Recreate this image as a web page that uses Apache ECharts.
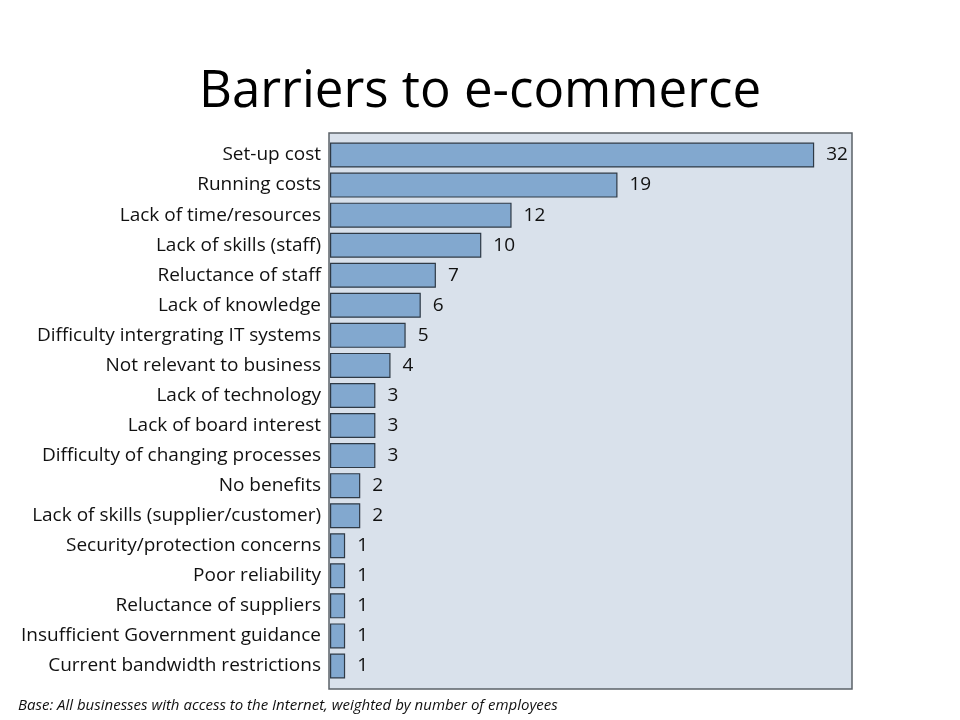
<!DOCTYPE html>
<html>
<head>
<meta charset="utf-8">
<script src="https://cdn.jsdelivr.net/npm/echarts@6/dist/echarts.min.js"></script>
<style>
  html, body { margin: 0; padding: 0; background: #fff; }
  #container { width: 960px; height: 720px; }
</style>
</head>
<body>
<div id="container"></div>
<script>
let categories = [
    'Set-up cost',
    'Running costs',
    'Lack of time/resources',
    'Lack of skills (staff)',
    'Reluctance of staff',
    'Lack of knowledge',
    'Difficulty intergrating IT systems',
    'Not relevant to business',
    'Lack of technology',
    'Lack of board interest',
    'Difficulty of changing processes',
    'No benefits',
    'Lack of skills (supplier/customer)',
    'Security/protection concerns',
    'Poor reliability',
    'Reluctance of suppliers',
    'Insufficient Government guidance',
    'Current bandwidth restrictions'
];
let values = [32, 19, 12, 10, 7, 6, 5, 4, 3, 3, 3, 2, 2, 1, 1, 1, 1, 1];

let titleText = 'Barriers to e-commerce';
let footText = 'Base: All businesses with access to the Internet, weighted by number of employees';

let dom = document.getElementById('container');
let chart = echarts.init(dom);

let font = '"Open Sans", "DejaVu Sans", sans-serif';

chart.setOption({
    animation: false,
    backgroundColor: '#ffffff',
    title: [{
        text: titleText,
        left: 'center',
        top: 62,
        textStyle: {
            fontFamily: font,
            fontSize: 51,
            fontWeight: 'normal',
            color: '#000'
        }
    }, {
        text: footText,
        left: 13,
        top: 693,
        textStyle: {
            fontFamily: font,
            fontSize: 15,
            fontStyle: 'italic',
            fontWeight: 'normal',
            color: '#111'
        }
    }],
    graphic: [{
        type: 'rect',
        z: 0,
        shape: { x: 329, y: 133, width: 523, height: 556 },
        style: { fill: '#d9e1eb', stroke: '#5b6168', lineWidth: 1.5 }
    }],
    grid: {
        left: 330,
        right: 108,
        top: 140,
        height: 541
    },
    xAxis: {
        type: 'value',
        min: 0,
        max: 34.5,
        show: false
    },
    yAxis: {
        type: 'category',
        data: categories,
        inverse: true,
        axisLine: { show: false },
        axisTick: { show: false },
        axisLabel: {
            margin: 9,
            fontFamily: font,
            fontSize: 19,
            color: '#111'
        }
    },
    series: [{
        type: 'bar',
        data: values,
        barWidth: 25,
        itemStyle: {
            color: '#82a8cf',
            borderColor: '#2f3a46',
            borderWidth: 1.2
        },
        label: {
            show: true,
            position: 'right',
            distance: 12,
            fontFamily: font,
            fontSize: 19,
            color: '#111'
        }
    }]
});
</script>
</body>
</html>
